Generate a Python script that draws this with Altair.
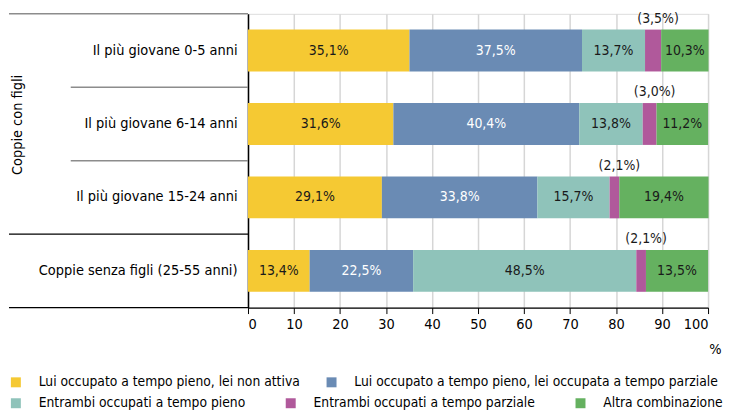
import altair as alt
import pandas as pd

categories = [
    "Il più giovane 0-5 anni",
    "Il più giovane 6-14 anni",
    "Il più giovane 15-24 anni",
    "Coppie senza figli (25-55 anni)",
]
series = [
    "Lui occupato a tempo pieno, lei non attiva",
    "Lui occupato a tempo pieno, lei occupata a tempo parziale",
    "Entrambi occupati a tempo pieno",
    "Entrambi occupati a tempo parziale",
    "Altra combinazione",
]
colors = ["#F5C933", "#6A8BB4", "#8FC3BA", "#B0599B", "#65B160"]

s1 = [35.1, 31.6, 29.1, 13.4]
s2 = [37.5, 40.4, 33.8, 22.5]
s3 = [13.7, 13.8, 15.7, 48.5]
s4 = [3.5, 3.0, 2.1, 2.1]
s5 = [10.3, 11.2, 19.4, 13.5]
group_label = "Coppie con figli"
x_ticks = list(range(0, 101, 10))

FONT = "DejaVu Sans Condensed"

rows = []
all_vals = [s1, s2, s3, s4, s5]
for ci, cat in enumerate(categories):
    cum = 0.0
    for si, ser in enumerate(series):
        v = all_vals[si][ci]
        lab = f"{v:.1f}".replace(".", ",") + "%"
        if si == 3:
            lab = "(" + lab + ")"
        rows.append({"category": cat, "series": ser, "value": v,
                     "start": cum, "end": cum + v, "mid": cum + v / 2,
                     "label": lab, "sidx": si})
        cum += v
df = pd.DataFrame(rows)

W = 462
xscale = alt.Scale(domain=[0, 100], nice=False)
xaxis = alt.Axis(values=x_ticks, title="%", grid=True, gridColor="#d6d6d6",
                 gridWidth=1.5, domainColor="black", domainWidth=1.2,
                 tickColor="black", tickSize=6, labelFontSize=14.5, labelPadding=4,
                 labelColor="black", titleColor="black",
                 titleFontSize=14.5, titleFontWeight="normal", titleX=W + 7,
                 titleY=42, titleAlign="center", titleBaseline="middle")
yscale = alt.Scale(domain=categories, paddingInner=0, paddingOuter=0)
yaxis = alt.Axis(title=None, ticks=False, domain=True, domainColor="black",
                 domainWidth=1.5, labelFontSize=14.5, labelPadding=11,
                 labelLimit=400, labelColor="black")

def Y(**kw):
    return alt.Y("category:N", scale=yscale, axis=yaxis, sort=categories, **kw)

base = alt.Chart(df)

bars1 = base.transform_filter(alt.datum.sidx < 2).mark_bar(
    height={"band": 0.57}).encode(
    x=alt.X("start:Q", scale=xscale, axis=xaxis),
    x2="end:Q",
    y=Y(),
    color=alt.Color("series:N", scale=alt.Scale(domain=series[:2], range=colors[:2]),
                    legend=alt.Legend(orient="none", legendX=-240, legendY=363,
                                      direction="horizontal", columnPadding=24,
                                      title=None)),
)
bars2 = base.transform_filter(alt.datum.sidx >= 2).mark_bar(
    height={"band": 0.57}).encode(
    x=alt.X("start:Q", scale=xscale, axis=xaxis),
    x2="end:Q",
    y=Y(),
    fill=alt.Fill("series:N", scale=alt.Scale(domain=series[2:], range=colors[2:]),
                  legend=alt.Legend(orient="none", legendX=-240, legendY=384,
                                    direction="horizontal", columnPadding=38,
                                    title=None)),
)

labels = base.transform_filter(alt.datum.sidx != 3).mark_text(
    fontSize=14, font=FONT, baseline="middle", align="center").encode(
    x=alt.X("mid:Q", scale=xscale, axis=xaxis),
    y=Y(),
    text="label:N",
    color=alt.condition(alt.datum.sidx == 1, alt.value("white"), alt.value("#1a1a1a")),
)
pink_labels = base.transform_filter(alt.datum.sidx == 3).mark_text(
    fontSize=14, font=FONT, baseline="middle", align="center", dy=-32, dx=5,
    color="#1a1a1a").encode(
    x=alt.X("mid:Q", scale=xscale, axis=xaxis),
    y=Y(),
    text="label:N",
)

sep_df = pd.DataFrame({"category": categories})
long_gray = alt.Chart(sep_df).transform_filter(
    alt.datum.category == categories[0]).mark_rule(color="#8c8c8c", strokeWidth=1.5).encode(
    y=Y(bandPosition=0), x=alt.value(-240), x2=alt.value(0))
short_gray = alt.Chart(sep_df).transform_filter(
    (alt.datum.category == categories[1]) | (alt.datum.category == categories[2])
).mark_rule(color="#8c8c8c", strokeWidth=1.5).encode(
    y=Y(bandPosition=0), x=alt.value(-178), x2=alt.value(0))
long_black = alt.Chart(sep_df).transform_filter(
    alt.datum.category == categories[3]).mark_rule(color="black", strokeWidth=1.3).encode(
    y=Y(bandPosition=0), x=alt.value(-240), x2=alt.value(0))
bottom_black = alt.Chart(sep_df).transform_filter(
    alt.datum.category == categories[3]).mark_rule(color="black", strokeWidth=1.3).encode(
    y=Y(bandPosition=1), x=alt.value(-240), x2=alt.value(0))

grp_df = pd.DataFrame({"category": [categories[1]], "text": [group_label]})
grp = alt.Chart(grp_df).mark_text(angle=270, fontSize=14.5, font=FONT, align="center",
                                  baseline="middle", dx=-1, color="black").encode(
    x=alt.value(-231), y=Y(), text="text:N")

chart = alt.layer(
    bars1, bars2, labels, pink_labels, long_gray, short_gray, long_black,
    bottom_black, grp
).resolve_scale(color="independent").properties(
    width=W, height=295,
    padding={"left": 0, "top": 2, "right": 0, "bottom": 0},
).configure_view(stroke=None).configure(font=FONT).configure_axis(
    labelFont=FONT, titleFont=FONT
).configure_legend(
    labelFont=FONT, labelFontSize=13.8, symbolType="square", symbolSize=100,
    labelOffset=16, symbolStrokeWidth=0, labelLimit=500, labelColor="black"
)

chart.save("out.html", embed_options={"renderer": "svg", "actions": False})
